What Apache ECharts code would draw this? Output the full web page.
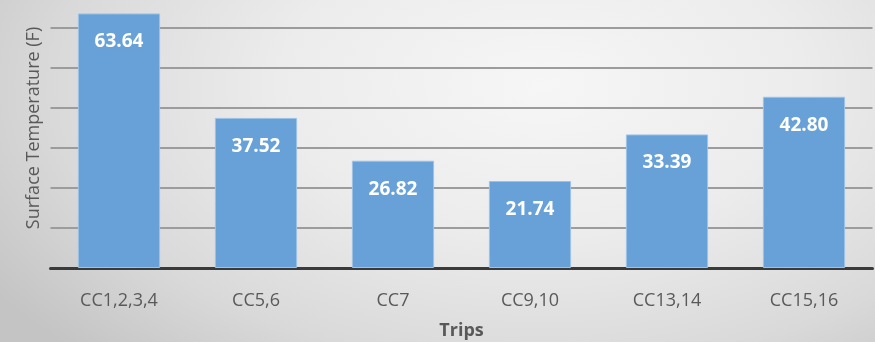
<!DOCTYPE html>
<html><head><meta charset="utf-8">
<script src="https://cdn.jsdelivr.net/npm/echarts@6/dist/echarts.min.js"></script>
<style>
html,body{margin:0;padding:0;}
#c{width:875px;height:342px;background:radial-gradient(ellipse 75% 110% at 62% 25%, #f6f6f6 0%, #ececec 40%, #d9d9d9 75%, #c4c4c4 100%);}
</style></head>
<body><div id="c"></div>
<script>
const categories = ['CC1,2,3,4','CC5,6','CC7','CC9,10','CC13,14','CC15,16'];
const values = [63.64, 37.52, 26.82, 21.74, 33.39, 42.80];
const yAxisName = 'Surface Temperature (F)';
const xAxisName = 'Trips';

const chart = echarts.init(document.getElementById('c'), null, {renderer:'canvas'});
chart.setOption({
  backgroundColor: 'transparent',
  animation: false,
  grid: {left: 50.5, right: 2.5, top: -12, bottom: 74, containLabel: false, outerBoundsMode: 'none'},
  xAxis: {
    type: 'category', data: categories,
    name: xAxisName, nameLocation: 'middle', nameGap: 54,
    nameTextStyle: {fontFamily: 'Open Sans', fontWeight: 'bold', fontSize: 18, color: '#595959'},
    axisLine: {lineStyle: {color: '#3a3a3a', width: 3}},
    axisTick: {show: false},
    axisLabel: {fontFamily: 'Open Sans', fontSize: 18, color: '#595959', margin: 24}
  },
  yAxis: {
    type: 'value', min: 0, max: 70, interval: 10,
    name: yAxisName, nameLocation: 'middle', nameGap: 8,
    nameTextStyle: {fontFamily: 'Open Sans', fontSize: 18, color: '#595959'},
    axisLine: {show: false}, axisTick: {show: false}, axisLabel: {show: false},
    splitLine: {lineStyle: {color: '#9c9c9c', width: 2}}
  },
  series: [{
    type: 'bar', data: values, barCategoryGap: '40%',
    itemStyle: {color: '#67a1d8', borderColor: '#9cc2e6', borderWidth: 1},
    label: {show: true, position: 'insideTop', distance: 19,
      formatter: p => p.value.toFixed(2),
      fontFamily: 'Open Sans', fontWeight: 'bold', fontSize: 19, color: '#ffffff'}
  }]
});
</script></body></html>
